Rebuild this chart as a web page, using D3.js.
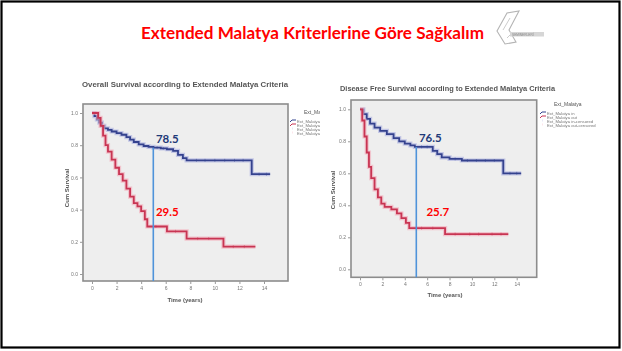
<!DOCTYPE html>
<html>
<head>
<meta charset="utf-8">
<script src="https://cdn.jsdelivr.net/npm/d3@7/dist/d3.min.js"></script>
<style>
  html, body { margin: 0; padding: 0; background: #fff; }
  svg { display: block; }
</style>
</head>
<body>
<svg id="slide" width="622" height="351"></svg>
<script>
// ---- Data: Kaplan–Meier steps [time (years), cumulative survival] ----
const osInSteps = [[0,1.0],[0.2,0.98],[0.4,0.96],[0.6,0.94],[0.8,0.92],[1.0,0.905],[1.3,0.895],[1.6,0.885],[2.0,0.875],[2.4,0.865],[2.8,0.85],[3.1,0.835],[3.4,0.82],[3.8,0.805],[4.2,0.795],[4.6,0.79],[5.0,0.785],[5.6,0.78],[6.1,0.775],[6.6,0.765],[7.0,0.74],[7.4,0.72],[7.7,0.706],[13.0,0.62]];
const osInEnd = 14.5;
const osOutSteps = [[0,1.0],[0.5,0.97],[0.7,0.92],[0.9,0.86],[1.1,0.80],[1.3,0.76],[1.6,0.71],[1.9,0.66],[2.2,0.62],[2.5,0.58],[2.8,0.53],[3.1,0.48],[3.4,0.44],[3.7,0.42],[4.0,0.39],[4.3,0.34],[4.5,0.295],[6.1,0.265],[7.7,0.22],[10.7,0.17]];
const osOutEnd = 13.3;
const dfsInSteps = [[0,1.0],[0.3,0.97],[0.6,0.94],[0.9,0.91],[1.3,0.885],[1.8,0.865],[2.4,0.845],[3.0,0.82],[3.5,0.80],[4.0,0.785],[4.5,0.775],[4.9,0.765],[6.5,0.74],[6.9,0.72],[7.3,0.70],[8.0,0.69],[9.1,0.68],[12.8,0.60]];
const dfsInEnd = 14.4;
const dfsOutSteps = [[0,1.0],[0.2,0.93],[0.4,0.83],[0.6,0.73],[0.8,0.64],[1.0,0.57],[1.3,0.50],[1.6,0.45],[1.9,0.41],[2.2,0.39],[2.8,0.375],[3.3,0.35],[3.7,0.32],[4.1,0.29],[4.4,0.257],[7.6,0.22]];
const dfsOutEnd = 13.25;

// censored observations (times)
const osInCensor = [5.3, 5.8, 8.5, 9.2, 10.0, 10.8, 11.6, 12.3, 13.6, 14.2];
const osOutCensor = [5.2, 6.8, 8.6, 9.5, 11.5, 12.4];
const dfsInCensor = [5.5, 6.0, 8.5, 9.6, 10.4, 11.2, 12.0, 13.4, 14.0];
const dfsOutCensor = [5.5, 6.5, 8.5, 9.8, 10.6, 11.8, 12.6];

// survival read at 5 years (percent)
const osAt5 = [78.5, 29.5];
const dfsAt5 = [76.5, 25.7];
const markTime = 5;

const xTicks = [0, 2, 4, 6, 8, 10, 12, 14];
const yTicks = [0, 0.2, 0.4, 0.6, 0.8, 1.0];
const legendTitle = "Ext_Malatya";
const legendItems = ["Ext_Malatya in", "Ext_Malatya out", "Ext_Malatya in-censored", "Ext_Malatya out-censored"];
const slideTitle = "Extended Malatya Kriterlerine Göre Sağkalım";

// ---- Drawing ----
const svg = d3.select("#slide");
const BLUE = "#34438e", BLUE_HALO = "#a9aee0";
const RED = "#c83452", RED_HALO = "#f3a8b8";
const MARK = "#4f93da";

const defs = svg.append("defs");
defs.append("filter").attr("id", "soft")
  .append("feGaussianBlur").attr("stdDeviation", 0.45);

// slide frame
svg.append("rect").attr("x", 1.5).attr("y", 1.5).attr("width", 618).attr("height", 346)
  .attr("fill", "#fff").attr("stroke", "#000").attr("stroke-width", 2.2);

// slide title
svg.append("text").attr("x", 141).attr("y", 39)
  .attr("textLength", 343).attr("lengthAdjust", "spacingAndGlyphs")
  .style("font-family", "Lato, 'Open Sans', sans-serif").style("font-weight", 700)
  .style("font-size", "17px").attr("fill", "#ff0000").text(slideTitle);

// small grey logo
const logo = svg.append("g").attr("filter", "url(#soft)");
logo.append("path").attr("d", "M497,31 L507,13 L519,11 L509,30 L516,42 L505,44 Z")
  .attr("fill", "none").attr("stroke", "#b4b4b4").attr("stroke-width", 1.1);
logo.append("path").attr("d", "M503,30 L510,18 M507,38 L512,33")
  .attr("fill", "none").attr("stroke", "#c6c6c6").attr("stroke-width", 0.9);
logo.append("rect").attr("x", 510).attr("y", 32).attr("width", 34).attr("height", 4.5).attr("fill", "#d6d6d6");
logo.append("text").attr("x", 512).attr("y", 35.6).style("font-size", "3.2px")
  .style("font-family", "Liberation Sans, sans-serif").attr("fill", "#8a8a8a").text("SEMINERLERİ");

function drawPanel(cfg) {
  const g = svg.append("g");
  const img = g.append("g").attr("filter", "url(#soft)");
  const x = d3.scaleLinear().domain([0, 14]).range(cfg.xRange);
  const y = d3.scaleLinear().domain([0, 1]).range(cfg.yRange);
  const f = cfg.frame;

  // chart title
  img.append("text").attr("x", (cfg.titleX[0] + cfg.titleX[1]) / 2).attr("y", cfg.titleY)
    .attr("text-anchor", "middle")
    .attr("textLength", cfg.titleX[1] - cfg.titleX[0]).attr("lengthAdjust", "spacingAndGlyphs")
    .style("font-family", "'Liberation Sans', Arial, sans-serif").style("font-weight", 700)
    .style("font-size", "6.5px").attr("fill", "#555").text(cfg.title);

  // plot area
  img.append("rect").attr("x", f[0]).attr("y", f[2]).attr("width", f[1] - f[0]).attr("height", f[3] - f[2])
    .attr("fill", "#eeeeee").attr("stroke", "#8c8c8c").attr("stroke-width", 1.6);

  // axes
  const ya = img.append("g").attr("transform", `translate(${f[0]},0)`)
    .call(d3.axisLeft(y).tickValues(yTicks).tickFormat(d3.format(".1f")).tickSize(3).tickPadding(2));
  const xa = img.append("g").attr("transform", `translate(0,${f[3]})`)
    .call(d3.axisBottom(x).tickValues(xTicks).tickFormat(d3.format("d")).tickSize(3).tickPadding(2));
  [ya, xa].forEach(a => {
    a.select(".domain").remove();
    a.selectAll("line").attr("stroke", "#999");
    a.selectAll("text").style("font-size", "5px").style("font-family", "'Liberation Sans', Arial, sans-serif").attr("fill", "#777");
  });

  // axis titles
  img.append("text").attr("transform", `translate(${cfg.yLabelPos[0]},${cfg.yLabelPos[1]}) rotate(-90)`)
    .attr("text-anchor", "middle").style("font-size", "6px").style("font-weight", 700)
    .style("font-family", "'Liberation Sans', Arial, sans-serif").attr("fill", "#555").text("Cum Survival");
  img.append("text").attr("x", cfg.xLabelPos[0]).attr("y", cfg.xLabelPos[1])
    .attr("text-anchor", "middle").style("font-size", "6px").style("font-weight", 700)
    .style("font-family", "'Liberation Sans', Arial, sans-serif").attr("fill", "#555").text("Time (years)");

  // survival curves
  const line = d3.line().x(d => x(d[0])).y(d => y(d[1])).curve(d3.curveStepAfter);
  function stepAt(steps, t) {
    let s = steps[0][1];
    for (const p of steps) if (p[0] <= t) s = p[1];
    return s;
  }
  cfg.series.forEach(s => {
    const pts = s.steps.concat([[s.end, s.steps[s.steps.length - 1][1]]]);
    img.append("path").attr("d", line(pts)).attr("fill", "none")
      .attr("stroke", s.halo).attr("stroke-width", 4.2).attr("stroke-opacity", 0.6);
    img.append("path").attr("d", line(pts)).attr("fill", "none")
      .attr("stroke", s.color).attr("stroke-width", 1.8);
    img.selectAll(null).data(s.censor).join("line")
      .attr("x1", d => x(d)).attr("x2", d => x(d))
      .attr("y1", d => y(stepAt(s.steps, d)) - 1.5).attr("y2", d => y(stepAt(s.steps, d)) + 1.5)
      .attr("stroke", s.color).attr("stroke-width", 0.6).attr("stroke-opacity", 0.7);
  });

  // legend
  const lg = img.append("g");
  if (cfg.legendClip) {
    const id = "clip" + cfg.legendClip;
    defs.append("clipPath").attr("id", id).append("rect")
      .attr("x", cfg.legend[0] - 2).attr("y", cfg.legend[1] - 10).attr("width", cfg.legendClip - cfg.legend[0] + 2).attr("height", 40);
    lg.attr("clip-path", `url(#${id})`);
  }
  const [lx, ly] = cfg.legend;
  lg.append("text").attr("x", lx + 14).attr("y", ly).style("font-size", "5px")
    .style("font-family", "'Liberation Sans', Arial, sans-serif").attr("fill", "#555").text(legendTitle);
  const itemColors = [BLUE, RED, BLUE_HALO, RED_HALO];
  legendItems.forEach((t, i) => {
    const yy = ly + 7 + i * 4;
    if (i < 2) {
      lg.append("path").attr("d", `M${lx},${yy + 1} L${lx + 2},${yy - 1} L${lx + 6},${yy - 1}`)
        .attr("fill", "none").attr("stroke", itemColors[i]).attr("stroke-width", 1);
    } else {
      lg.append("text").attr("x", lx + 1).attr("y", yy + 1).style("font-size", "5px")
        .attr("fill", itemColors[i]).text("+");
    }
    lg.append("text").attr("x", lx + 7).attr("y", yy + 1.5).style("font-size", "4.2px")
      .style("font-family", "'Liberation Sans', Arial, sans-serif").attr("fill", "#777").text(t);
  });

  // 5-year marker and annotated values
  const xm = x(markTime);
  g.append("rect").attr("x", Math.round(xm) - 0.5).attr("y", y(cfg.at5[0] / 100))
    .attr("width", 1.6).attr("height", f[3] - y(cfg.at5[0] / 100))
    .attr("fill", MARK);
  g.append("text").attr("x", xm + cfg.labelDx[0]).attr("y", y(cfg.at5[0] / 100) - 5)
    .style("font-family", "Lato, 'Open Sans', sans-serif").style("font-weight", 700)
    .style("font-size", "11.5px").attr("fill", "#1f3a78").text(cfg.at5[0].toFixed(1));
  g.append("text").attr("x", xm + cfg.labelDx[1]).attr("y", cfg.lowLabelY)
    .style("font-family", "Lato, 'Open Sans', sans-serif").style("font-weight", 700)
    .style("font-size", "11.5px").attr("fill", "#ff0000").text(cfg.at5[1].toFixed(1));
}

drawPanel({
  title: "Overall Survival according to Extended Malatya Criteria",
  titleX: [82, 288], titleY: 87,
  xRange: [92, 264], yRange: [274, 113],
  frame: [83, 288, 104, 281],
  yLabelPos: [69, 188], xLabelPos: [185, 302],
  series: [
    { steps: osInSteps, end: osInEnd, censor: osInCensor, color: BLUE, halo: BLUE_HALO },
    { steps: osOutSteps, end: osOutEnd, censor: osOutCensor, color: RED, halo: RED_HALO }
  ],
  legend: [290, 114], legendClip: 320,
  at5: osAt5, labelDx: [2.5, 2.5], lowLabelY: 216
});

drawPanel({
  title: "Disease Free Survival according to Extended Malatya Criteria",
  titleX: [340, 555], titleY: 91,
  xRange: [360, 516.7], yRange: [269.3, 109.3],
  frame: [351, 536.7, 100, 277.3],
  yLabelPos: [335, 190], xLabelPos: [445, 297],
  series: [
    { steps: dfsInSteps, end: dfsInEnd, censor: dfsInCensor, color: BLUE, halo: BLUE_HALO },
    { steps: dfsOutSteps, end: dfsOutEnd, censor: dfsOutCensor, color: RED, halo: RED_HALO }
  ],
  legend: [540, 106], legendClip: null,
  at5: dfsAt5, labelDx: [3, 10.5], lowLabelY: 216
});
</script>
</body>
</html>
